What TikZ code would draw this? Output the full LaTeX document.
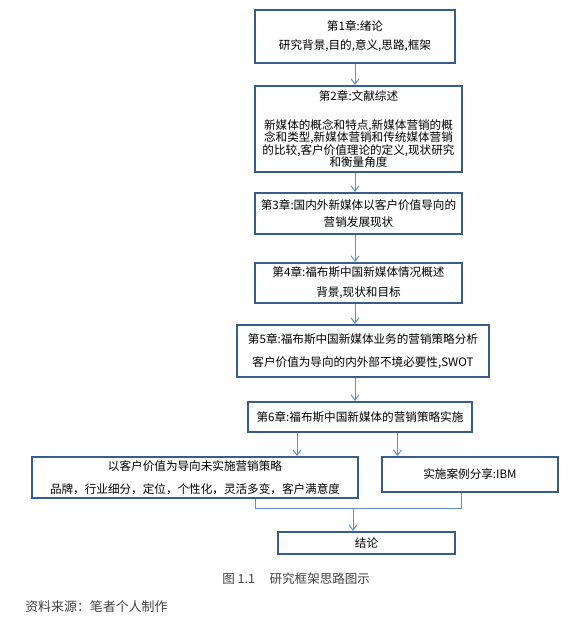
\documentclass[tikz,border=0pt]{standalone}
\usepackage{fontspec}
\setmainfont{Noto Sans CJK SC}
\usetikzlibrary{arrows.meta, calc}
\definecolor{boxblue}{RGB}{56,93,138}
\definecolor{linkblue}{RGB}{100,140,200}

\begin{document}
\begin{tikzpicture}[x=0.75pt,y=-0.75pt,
    chapbox/.style={rectangle,draw=boxblue,line width=1.5pt,fill=white,
                    align=center,inner sep=0pt,
                    font=\fontsize{8.7}{9.3}\selectfont},
    flowline/.style={draw=linkblue,line width=0.75pt},
    flowarrow/.style={flowline,-{Straight Barb[length=4pt,width=6pt]}},
    capnote/.style={anchor=west,inner sep=0pt,text=black!75}]
  \useasboundingbox (0,0) rectangle (582,624);
  \node[chapbox,minimum width=150pt,minimum height=39.75pt]
        (b1)at(355,36.5)   {第1章:绪论\\[4.95pt]研究背景,目的,意义,思路,框架};
  \node[chapbox,minimum width=155.25pt,minimum height=64.5pt]
        (b2)at(358.5,129)  {第2章:文献综述\\[12.45pt]新媒体的概念和特点,新媒体营销的概\\念和类型,新媒体营销和传统媒体营销\\的比较,客户价值理论的定义,现状研究\\和衡量角度};
  \node[chapbox,minimum width=155.25pt,minimum height=30.75pt]
        (b3)at(358.5,213.5){第3章:国内外新媒体以客户价值导向的\\[3.45pt]营销发展现状};
  \node[chapbox,minimum width=155.25pt,minimum height=30pt]
        (b4)at(358.5,283)  {第4章:福布斯中国新媒体情况概述\\[5.7pt]背景,现状和目标};
  \node[chapbox,minimum width=189pt,minimum height=39pt]
        (b5)at(363,351)    {第5章:福布斯中国新媒体业务的营销策略分析\\[7.95pt]客户价值为导向的内外部不境必要性,SWOT};
  \node[chapbox,minimum width=168pt,minimum height=22.5pt]
        (b6)at(360,417)    {第6章:福布斯中国新媒体的营销策略实施};
  \node[chapbox,minimum width=244.5pt,minimum height=30.75pt]
        (lf)at(195,477.5)  {以客户价值为导向未实施营销策略\\[7.95pt]品牌，行业细分，定位，个性化，灵活多变，客户满意度};
  \node[chapbox,minimum width=132pt,minimum height=26.25pt]
        (rt)at(470,474.5)  {实施案例分享:IBM};
  \node[chapbox,minimum width=132.75pt,minimum height=16.5pt]
        (b9)at(366.5,543)  {结论};
  \draw[flowarrow](b1.south)--(b1.south|-b2.north);
  \draw[flowarrow](b2.south-|b1.south)--(b3.north-|b1.south);
  \draw[flowarrow](b3.south-|b1.south)--(b4.north-|b1.south);
  \draw[flowarrow](b4.south-|b1.south)--(b5.north-|b1.south);
  \draw[flowarrow](b5.south-|b1.south)--(b6.north-|b1.south);
  \coordinate(sl)at($(b6.south)+(-63,0)$);
  \coordinate(sr)at($(b6.south)+(37.5,0)$);
  \draw[flowarrow](sl)--(sl|-lf.north);
  \draw[flowarrow](sr)--(sr|-rt.north);
  \coordinate(jl)at(255,508);
  \coordinate(jr)at(461,508);
  \coordinate(jm)at(353,508);
  \draw[flowline](lf.south-|jl)--(jl)--(jr)--(rt.south-|jr);
  \draw[flowarrow](jm)--(jm|-b9.north);
  \node[capnote,font=\fontsize{9.4}{11}\selectfont]
        (cap)at(222,579){图 1.1\hspace{11pt}研究框架思路图示};
  \node[capnote,font=\fontsize{9.7}{11}\selectfont]
        (src)at(25,607){资料来源：笔者个人制作};
\end{tikzpicture}
\end{document}
